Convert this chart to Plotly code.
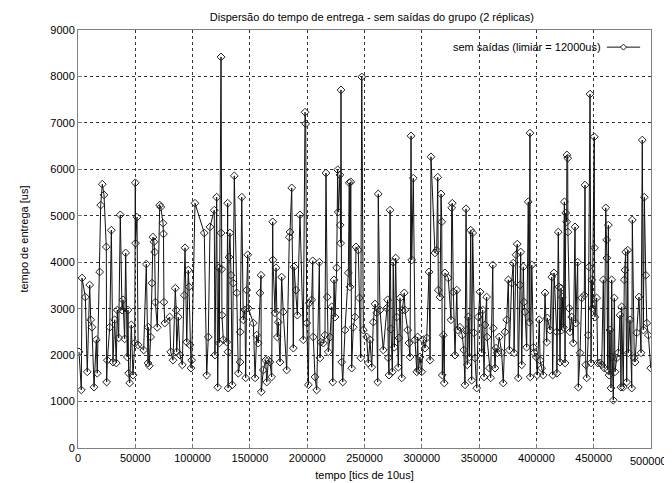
import plotly.graph_objects as go

title_text = "Dispersão do tempo de entrega - sem saídas do grupo (2 réplicas)"
x_label = "tempo [tics de 10us]"
y_label = "tempo de entrega [us]"
series_name = "sem saídas (limiar = 12000us)"

x_ticks = [0, 50000, 100000, 150000, 200000, 250000, 300000, 350000, 400000, 450000, 500000]
y_ticks = [0, 1000, 2000, 3000, 4000, 5000, 6000, 7000, 8000, 9000]

tempo = [
    900, 2900, 3500, 6400, 8100, 10200, 11100, 12200, 14000, 16000, 16800, 18900, 19800, 21200, 22700,
    24700, 25000, 25600, 27700, 29100, 30500, 32000, 33400, 34300, 35500, 36900, 38400, 39300, 40700,
    41600, 43000, 43600, 44200, 45100, 46500, 48000, 49500, 50000, 50200, 51500, 52400, 57300, 59600,
    61100, 61300, 62200, 63400, 64600, 65400, 66300, 66900, 67500, 69200, 71300, 72200, 74200, 74600,
    75000, 75700, 80000, 80900, 82900, 84900, 85700, 86100, 87500, 89000, 91000, 92800, 93400, 94900,
    96200, 96900, 97700, 98600, 99200, 102100, 110200, 112300, 113700, 115200, 118900, 119500, 121000,
    121900, 123000, 123300, 124800, 124900, 125400, 125600, 126800, 129800, 130600, 130800, 131000,
    131800, 132600, 133500, 134600, 135500, 136400, 138500, 139900, 141400, 141500, 142900, 144200,
    145700, 146300, 147200, 148100, 148600, 153000, 154500, 155900, 157300, 158800, 159700, 159900,
    161700, 163800, 164700, 166100, 167500,
    169000, 169900, 170100, 171900, 172800, 173900, 174800, 176300, 177700, 179100, 182100, 184400,
    185000, 186500, 187900, 188500, 190200, 191400, 193700, 196600, 198100, 198700, 199600, 201000,
    201800, 203900, 204800, 205300, 206800, 208300, 210600, 211200, 211800, 214100, 215500, 216400,
    217500, 218400, 219900, 221400, 222300, 223400, 224300, 225700, 226600, 227100, 228600, 228800,
    229200, 229500, 230100, 231000, 233000, 235900, 236700, 237300, 238000, 238800, 240200, 241700,
    242600, 244600, 245500, 246700, 247600, 249000,
    251900, 253300, 254800, 256300, 257700, 259200, 260600, 261500, 262000, 263500, 266400, 269400,
    270200, 270800, 271400, 272300, 273100, 274300, 275100, 276000, 277200, 278100, 279500, 280100,
    281000, 282500, 283000, 284700, 285300, 287700, 288800, 289700, 290600, 291200, 292600, 294100,
    295600, 296400, 297000, 298400, 299900, 301300, 302800, 304300, 306300, 307200, 308000, 311500,
    313000, 313900, 314400, 315900, 316800, 317400, 317900, 318800, 319600, 320200, 323100, 325500,
    326100, 326600, 327500, 329000, 330500, 331300, 333300, 335300, 336600,
    337700, 338600, 339200, 339700, 340600, 341500, 342700, 343500, 344400, 345600, 346400, 347900,
    349300, 350800, 352300, 353100, 354300, 355200, 356600, 356900, 359000, 360100, 361900, 362400,
    363900, 364700, 365900, 367600, 369700, 371100, 372600, 374100, 375500, 376400, 378400, 379800,
    380500, 382200, 383300, 384200, 385700, 386300, 387200, 388600, 389200, 390100, 391500, 392900,
    393800, 394400, 394600, 396000, 397400, 398000, 399800, 400800, 402500, 403200, 404600, 406000,
    407500, 409000, 409500, 411900, 413400, 414200, 415400,
    417700, 417900, 419100, 419700, 420600, 421500, 422100, 422600, 423500, 424400, 425000, 425600,
    426400, 426600, 427300, 427500, 428500, 429300, 430800, 432200, 433700, 434300, 436000, 436600,
    438100, 439500, 441800, 442400, 443000, 443900, 445300, 445900, 446800, 447700, 448300, 448800,
    450500, 450700, 451100, 452600, 453500, 455500, 457000, 458400, 459300, 460500, 461300, 461500,
    462200, 462800, 463400, 464200, 465100, 465700, 466200, 467100, 468000, 468600, 470100, 471500,
    473000, 473800, 474400, 475800, 476700, 477300, 477900, 478800, 479700, 480200, 481700, 483200,
    483700, 485400, 486100, 487500, 489500, 491300, 492400, 493300, 494200, 495400, 496300, 497700,
    499800,
]

entrega = [
    2070, 1250, 3660, 3250, 1640, 3510, 2760, 2600, 1310, 2330, 1610, 3790, 5230, 5680, 5450,
    4330, 1420, 1890, 2600, 4690, 1850, 2760, 1830, 2970, 2370, 5020, 2970, 3190, 2350,
    4200, 1960, 2970, 1610, 1400, 2650, 1570, 2260, 5710, 4410, 4970, 2220, 2110, 3960,
    1830, 2600, 1770, 2390, 3550, 4540, 4440, 4220, 3140, 2600, 5230, 5190, 4840, 4610,
    3140, 2690, 2820, 2070, 1890, 3440, 2970, 2070, 2820, 2000, 1790, 3290, 4310, 2280,
    3830, 3470, 2220, 1720, 1890, 5270, 4630, 1570, 2390, 4760, 5120, 2000, 5400,
    1310, 3880, 2260, 8420, 4630, 3850, 2860, 2330, 2280, 5270, 2070, 1290,
    4110, 4630, 3720, 1360, 3550, 5860, 3340, 1610, 1850, 2500, 5400, 2760,
    2970, 1510, 3400, 4160, 3010, 2690, 1510, 2430, 2260, 3340, 3720, 1210,
    1680, 1890, 1420, 1890, 1850,
    1530, 4870, 4050, 2910, 3880, 2390, 2710, 1850, 3680, 2930, 1680, 4540,
    4650, 5600, 2150, 3900, 3400, 2860, 5020, 2330, 7230, 6980, 2690, 1360,
    3120, 3190, 4030, 2390, 1530, 1250, 4000, 1940, 2280, 2260, 2430, 5920,
    3250, 2070, 2390, 3040, 1420, 3620, 2820, 3880, 5990, 5080, 5880, 4800,
    4410, 7710, 1850, 1420, 2540, 3770, 5710, 3470, 5730, 1720, 2600, 2820,
    4330, 4260, 3230, 1940, 7990, 2540,
    2390, 1830, 2330, 1740, 2710, 3100, 2910, 1420, 5470, 2970, 2110, 3010,
    3190, 1940, 1570, 5120, 2560, 1640, 4000, 2170, 4090, 2820, 1740, 2370,
    3230, 1510, 2970, 3340, 2970, 2540, 2260, 1960, 6720, 4050, 5810, 2330,
    1640, 2390, 1680, 1960, 1640, 2330, 2150, 2370, 3790, 1890, 6270, 4200,
    4260, 5830, 3400, 3250, 5470, 4870, 1570, 2430, 1400, 3770, 3660, 2760,
    5170, 5270, 3360, 2000, 3400, 2540, 2600, 2430, 2110,
    1360, 5150, 2540, 1790, 2820, 1960, 4690, 1460, 4630, 2480, 1940, 1290,
    2820, 3360, 2050, 2970, 1530, 2650, 3250, 2390, 1720, 1510, 3940, 2580,
    1720, 2150, 2050, 2390, 2050, 1400, 2500, 2760, 3620, 2110, 3550, 3980,
    2050, 4160, 4390, 1510, 3510, 4220, 1790, 3900, 3140, 2930, 2170, 5300,
    2710, 6780, 1530, 3940, 2170, 2050, 1960, 1570, 2760, 1890, 1720, 1570,
    3340, 2280, 2800, 2540, 3680, 1570, 3770,
    2500, 1610, 4650, 3470, 1850, 3440, 2540, 3250, 2600, 5300, 1830, 5060,
    4870, 6310, 6240, 4650, 3010, 2500, 2820, 2260, 4760, 2690, 4000, 1310,
    2050, 3230, 3290, 5660, 1790, 1510, 2430, 3900, 7620, 1830, 3620, 3010,
    6700, 4310, 2820, 3230, 1830, 1830, 1790, 3620, 1720, 5170, 4480, 4090,
    1680, 4800, 1570, 2540, 1290, 3620, 1960, 1030, 3230, 1640, 1940, 2050,
    2860, 1310, 3040, 1310, 3620, 3830, 4220, 1420, 4260, 2050, 2760, 1290,
    4910, 1940, 1850, 2480, 3250, 2050, 6630, 2540, 5400, 3720, 2690, 2430,
    1720,
]

FONT = "Liberation Sans, Arial, Helvetica, sans-serif"

fig = go.Figure()
fig.add_trace(go.Scatter(
    x=tempo, y=entrega, mode="lines+markers", name=series_name,
    line=dict(color="#111111", width=1),
    marker=dict(symbol="diamond-open", size=6, color="#222222", line=dict(width=1)),
    showlegend=False,
))

# gnuplot-style legend: text, then line sample with diamond (paper coords)
fig.add_annotation(
    x=0.917, y=0.959, xref="paper", yref="paper", text=series_name,
    showarrow=False, xanchor="right", yanchor="middle",
    font=dict(family=FONT, size=11, color="black"),
)
fig.add_shape(type="line", xref="paper", yref="paper",
              x0=0.923, x1=0.981, y0=0.959, y1=0.959,
              line=dict(color="#111111", width=1))
dx, dy = 3 / 573, 3 / 418
cx, cy = 0.952, 0.959
fig.add_shape(type="path", xref="paper", yref="paper",
              path=f"M {cx-dx} {cy} L {cx} {cy+dy} L {cx+dx} {cy} L {cx} {cy-dy} Z",
              line=dict(color="#222222", width=1), fillcolor="white")

# y axis title placed as rotated annotation (gnuplot position)
fig.add_annotation(
    x=-0.095, y=0.5, xref="paper", yref="paper", text=y_label, textangle=-90,
    showarrow=False, xanchor="center", yanchor="middle",
    font=dict(family=FONT, size=11, color="black"),
)

# last x tick label kept inside the window (right-aligned at the edge)
x_ticktext = [str(v) for v in x_ticks[:-1]] + [""]
fig.add_annotation(
    x=1.031, y=0, xref="paper", yref="paper", text=str(x_ticks[-1]),
    showarrow=False, xanchor="right", yanchor="top", yshift=-5,
    font=dict(family=FONT, size=11, color="black"),
)

axis_common = dict(
    showline=True, mirror=True, linecolor="#808080", linewidth=1,
    showgrid=True, gridcolor="#333333", griddash="dot", gridwidth=1,
    zeroline=False, ticks="inside", ticklen=4, tickcolor="#808080",
    tickfont=dict(family=FONT, size=11, color="black"),
    automargin=False,
)

fig.update_xaxes(range=[0, 500000], tickvals=x_ticks, ticktext=x_ticktext,
                 title=dict(text=x_label, font=dict(family=FONT, size=11, color="black"), standoff=8),
                 **axis_common)
fig.update_yaxes(range=[0, 9000], tickvals=y_ticks, tickformat="d", **axis_common)

# page body adds an 8px offset, so the figure is sized to fit the window
fig.update_layout(
    width=664, height=475, autosize=False,
    margin=dict(l=70, r=21, t=22, b=35, autoexpand=False),
    paper_bgcolor="white", plot_bgcolor="white",
    title=dict(text=title_text, x=0.548, xanchor="center", y=0.981, yanchor="middle",
               font=dict(family=FONT, size=11, color="black")),
    font=dict(family=FONT, size=11, color="black"),
)

fig.write_html("out.html")
